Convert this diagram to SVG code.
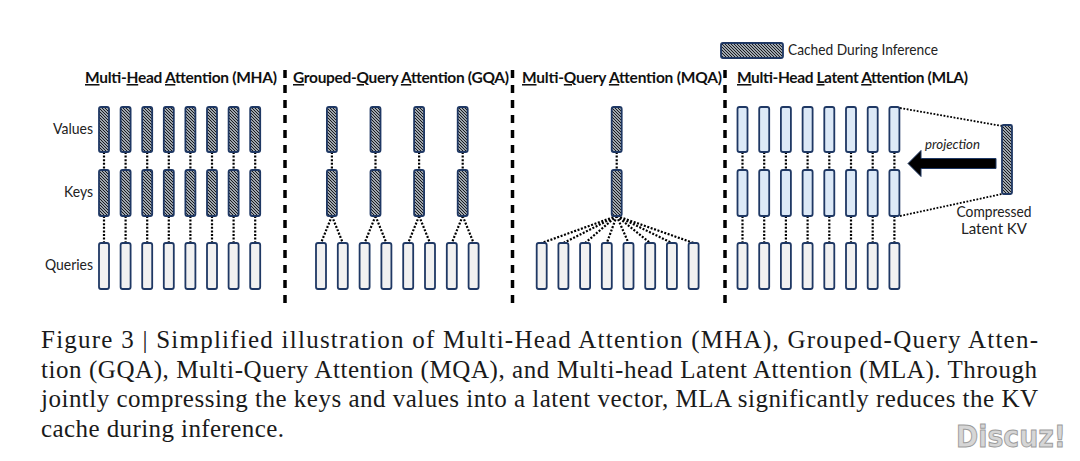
<svg xmlns="http://www.w3.org/2000/svg" width="1080" height="461" viewBox="0 0 1080 461">
<defs>
<pattern id="hatch" patternUnits="userSpaceOnUse" width="3" height="3">
<rect width="3" height="3" fill="#d6e2ef"/>
<path d="M-1,-1 L4,4 M-1,2 L1,4 M2,-1 L4,1" stroke="#111" stroke-width="1.1"/>
</pattern>
<style>
.bar{stroke:#1f3864;stroke-width:1.8}
.kv{fill:url(#hatch)}
.q{fill:#f1f1f1}
.lat{fill:#dce9f7}
.dot{stroke:#000;stroke-width:2.2;stroke-dasharray:2 1.6;fill:none}
.dot2{stroke:#000;stroke-width:1.8;stroke-dasharray:1.8 1.6;fill:none}
.div{stroke:#000;stroke-width:3.5;stroke-dasharray:8 7}
.title{font-family:Lato,"Liberation Sans",sans-serif;font-weight:bold;font-size:15.5px;fill:#111}
.u{text-decoration:underline}
.lbl{font-family:Lato,"Liberation Sans",sans-serif;font-size:15px;fill:#222}
.cap{font-family:"Liberation Serif",serif;font-size:25px;fill:#1a1a1a}
</style>
</defs>
<rect width="1080" height="461" fill="#fff"/>

<g id="dividers">
<line class="div" x1="285" y1="70" x2="285" y2="306"/>
<line class="div" x1="512.5" y1="70" x2="512.5" y2="306"/>
<line class="div" x1="725" y1="70" x2="725" y2="306"/>
</g>

<g id="legend">
<rect class="bar kv" x="721" y="43" width="62" height="15" rx="2"/>
<text class="lbl" x="788" y="54.5" font-size="13.5" textLength="150" lengthAdjust="spacingAndGlyphs">Cached During Inference</text>
</g>

<g id="titles">
<text class="title" x="85" y="83" textLength="192" lengthAdjust="spacing"><tspan class="u">M</tspan>ulti-<tspan class="u">H</tspan>ead <tspan class="u">A</tspan>ttention (MHA)</text>
<text class="title" x="293" y="83" textLength="216" lengthAdjust="spacing"><tspan class="u">G</tspan>rouped-<tspan class="u">Q</tspan>uery <tspan class="u">A</tspan>ttention (GQA)</text>
<text class="title" x="522" y="83" textLength="200" lengthAdjust="spacing"><tspan class="u">M</tspan>ulti-<tspan class="u">Q</tspan>uery <tspan class="u">A</tspan>ttention (MQA)</text>
<text class="title" x="737" y="83" textLength="231" lengthAdjust="spacing"><tspan class="u">M</tspan>ulti-Head <tspan class="u">L</tspan>atent <tspan class="u">A</tspan>ttention (MLA)</text>
</g>

<g id="row-labels">
<text class="lbl" x="93" y="134" text-anchor="end" textLength="40" lengthAdjust="spacingAndGlyphs">Values</text>
<text class="lbl" x="93" y="196.5" text-anchor="end" textLength="29" lengthAdjust="spacingAndGlyphs">Keys</text>
<text class="lbl" x="93" y="270" text-anchor="end" textLength="48" lengthAdjust="spacingAndGlyphs">Queries</text>
</g>

<g id="connectors">
<!-- MHA -->
<path class="dot" d="M104,152V170M125.6,152V170M147.2,152V170M168.8,152V170M190.4,152V170M212,152V170M233.6,152V170M255.2,152V170"/>
<path class="dot" d="M104,216V243M125.6,216V243M147.2,216V243M168.8,216V243M190.4,216V243M212,216V243M233.6,216V243M255.2,216V243"/>
<!-- GQA -->
<path class="dot" d="M331.9,152V170M375.5,152V170M419.1,152V170M462.7,152V170"/>
<path class="dot" d="M331.9,216L321,243M331.9,216L342.8,243M375.5,216L364.6,243M375.5,216L386.4,243M419.1,216L408.2,243M419.1,216L430,243M462.7,216L451.8,243M462.7,216L473.6,243"/>
<!-- MQA -->
<path class="dot" d="M616.7,152V170"/>
<path class="dot" d="M616.7,216L541.7,243M616.7,216L563.4,243M616.7,216L585.1,243M616.7,216L606.8,243M616.7,216L628.5,243M616.7,216L650.2,243M616.7,216L671.9,243M616.7,216L693.6,243"/>
<!-- MLA -->
<path class="dot" d="M742.5,152V170M764.2,152V170M785.9,152V170M807.6,152V170M829.3,152V170M851,152V170M872.7,152V170M894.4,152V170"/>
<path class="dot" d="M742.5,216V243M764.2,216V243M785.9,216V243M807.6,216V243M829.3,216V243M851,216V243M872.7,216V243M894.4,216V243"/>
<path class="dot2" d="M900,108L1002,126M900,216L1002,194"/>
<polygon id="projection-arrow" points="908,163.5 921,150.5 921,158.5 996,158.5 996,168.5 921,168.5 921,176.5" fill="#000" stroke="#1f3864" stroke-width="1"/>
<text x="925" y="149" font-family="Lato,'Liberation Sans',sans-serif" font-style="italic" font-size="13" fill="#222" textLength="55" lengthAdjust="spacingAndGlyphs">projection</text>
</g>

<!-- MHA nodes -->
<g id="mha-v1"><rect class="bar kv" x="99" y="107" width="10" height="45" rx="2"/></g>
<g id="mha-v2"><rect class="bar kv" x="120.6" y="107" width="10" height="45" rx="2"/></g>
<g id="mha-v3"><rect class="bar kv" x="142.2" y="107" width="10" height="45" rx="2"/></g>
<g id="mha-v4"><rect class="bar kv" x="163.8" y="107" width="10" height="45" rx="2"/></g>
<g id="mha-v5"><rect class="bar kv" x="185.4" y="107" width="10" height="45" rx="2"/></g>
<g id="mha-v6"><rect class="bar kv" x="207" y="107" width="10" height="45" rx="2"/></g>
<g id="mha-v7"><rect class="bar kv" x="228.6" y="107" width="10" height="45" rx="2"/></g>
<g id="mha-v8"><rect class="bar kv" x="250.2" y="107" width="10" height="45" rx="2"/></g>
<g id="mha-k1"><rect class="bar kv" x="99" y="170" width="10" height="46" rx="2"/></g>
<g id="mha-k2"><rect class="bar kv" x="120.6" y="170" width="10" height="46" rx="2"/></g>
<g id="mha-k3"><rect class="bar kv" x="142.2" y="170" width="10" height="46" rx="2"/></g>
<g id="mha-k4"><rect class="bar kv" x="163.8" y="170" width="10" height="46" rx="2"/></g>
<g id="mha-k5"><rect class="bar kv" x="185.4" y="170" width="10" height="46" rx="2"/></g>
<g id="mha-k6"><rect class="bar kv" x="207" y="170" width="10" height="46" rx="2"/></g>
<g id="mha-k7"><rect class="bar kv" x="228.6" y="170" width="10" height="46" rx="2"/></g>
<g id="mha-k8"><rect class="bar kv" x="250.2" y="170" width="10" height="46" rx="2"/></g>
<g id="mha-q1"><rect class="bar q" x="99" y="243" width="10" height="46" rx="2"/></g>
<g id="mha-q2"><rect class="bar q" x="120.6" y="243" width="10" height="46" rx="2"/></g>
<g id="mha-q3"><rect class="bar q" x="142.2" y="243" width="10" height="46" rx="2"/></g>
<g id="mha-q4"><rect class="bar q" x="163.8" y="243" width="10" height="46" rx="2"/></g>
<g id="mha-q5"><rect class="bar q" x="185.4" y="243" width="10" height="46" rx="2"/></g>
<g id="mha-q6"><rect class="bar q" x="207" y="243" width="10" height="46" rx="2"/></g>
<g id="mha-q7"><rect class="bar q" x="228.6" y="243" width="10" height="46" rx="2"/></g>
<g id="mha-q8"><rect class="bar q" x="250.2" y="243" width="10" height="46" rx="2"/></g>

<!-- GQA nodes -->
<g id="gqa-v1"><rect class="bar kv" x="326.9" y="107" width="10" height="45" rx="2"/></g>
<g id="gqa-v2"><rect class="bar kv" x="370.5" y="107" width="10" height="45" rx="2"/></g>
<g id="gqa-v3"><rect class="bar kv" x="414.1" y="107" width="10" height="45" rx="2"/></g>
<g id="gqa-v4"><rect class="bar kv" x="457.7" y="107" width="10" height="45" rx="2"/></g>
<g id="gqa-k1"><rect class="bar kv" x="326.9" y="170" width="10" height="46" rx="2"/></g>
<g id="gqa-k2"><rect class="bar kv" x="370.5" y="170" width="10" height="46" rx="2"/></g>
<g id="gqa-k3"><rect class="bar kv" x="414.1" y="170" width="10" height="46" rx="2"/></g>
<g id="gqa-k4"><rect class="bar kv" x="457.7" y="170" width="10" height="46" rx="2"/></g>
<g id="gqa-q1"><rect class="bar q" x="316" y="243" width="10" height="46" rx="2"/></g>
<g id="gqa-q2"><rect class="bar q" x="337.8" y="243" width="10" height="46" rx="2"/></g>
<g id="gqa-q3"><rect class="bar q" x="359.6" y="243" width="10" height="46" rx="2"/></g>
<g id="gqa-q4"><rect class="bar q" x="381.4" y="243" width="10" height="46" rx="2"/></g>
<g id="gqa-q5"><rect class="bar q" x="403.2" y="243" width="10" height="46" rx="2"/></g>
<g id="gqa-q6"><rect class="bar q" x="425" y="243" width="10" height="46" rx="2"/></g>
<g id="gqa-q7"><rect class="bar q" x="446.8" y="243" width="10" height="46" rx="2"/></g>
<g id="gqa-q8"><rect class="bar q" x="468.6" y="243" width="10" height="46" rx="2"/></g>

<!-- MQA nodes -->
<g id="mqa-v"><rect class="bar kv" x="611.7" y="107" width="10" height="45" rx="2"/></g>
<g id="mqa-k"><rect class="bar kv" x="611.7" y="170" width="10" height="46" rx="2"/></g>
<g id="mqa-q1"><rect class="bar q" x="536.7" y="243" width="10" height="46" rx="2"/></g>
<g id="mqa-q2"><rect class="bar q" x="558.4" y="243" width="10" height="46" rx="2"/></g>
<g id="mqa-q3"><rect class="bar q" x="580.1" y="243" width="10" height="46" rx="2"/></g>
<g id="mqa-q4"><rect class="bar q" x="601.8" y="243" width="10" height="46" rx="2"/></g>
<g id="mqa-q5"><rect class="bar q" x="623.5" y="243" width="10" height="46" rx="2"/></g>
<g id="mqa-q6"><rect class="bar q" x="645.2" y="243" width="10" height="46" rx="2"/></g>
<g id="mqa-q7"><rect class="bar q" x="666.9" y="243" width="10" height="46" rx="2"/></g>
<g id="mqa-q8"><rect class="bar q" x="688.6" y="243" width="10" height="46" rx="2"/></g>

<!-- MLA nodes -->
<g id="mla-v1"><rect class="bar lat" x="737.5" y="107" width="10" height="45" rx="2"/></g>
<g id="mla-v2"><rect class="bar lat" x="759.2" y="107" width="10" height="45" rx="2"/></g>
<g id="mla-v3"><rect class="bar lat" x="780.9" y="107" width="10" height="45" rx="2"/></g>
<g id="mla-v4"><rect class="bar lat" x="802.6" y="107" width="10" height="45" rx="2"/></g>
<g id="mla-v5"><rect class="bar lat" x="824.3" y="107" width="10" height="45" rx="2"/></g>
<g id="mla-v6"><rect class="bar lat" x="846" y="107" width="10" height="45" rx="2"/></g>
<g id="mla-v7"><rect class="bar lat" x="867.7" y="107" width="10" height="45" rx="2"/></g>
<g id="mla-v8"><rect class="bar lat" x="889.4" y="107" width="10" height="45" rx="2"/></g>
<g id="mla-k1"><rect class="bar lat" x="737.5" y="170" width="10" height="46" rx="2"/></g>
<g id="mla-k2"><rect class="bar lat" x="759.2" y="170" width="10" height="46" rx="2"/></g>
<g id="mla-k3"><rect class="bar lat" x="780.9" y="170" width="10" height="46" rx="2"/></g>
<g id="mla-k4"><rect class="bar lat" x="802.6" y="170" width="10" height="46" rx="2"/></g>
<g id="mla-k5"><rect class="bar lat" x="824.3" y="170" width="10" height="46" rx="2"/></g>
<g id="mla-k6"><rect class="bar lat" x="846" y="170" width="10" height="46" rx="2"/></g>
<g id="mla-k7"><rect class="bar lat" x="867.7" y="170" width="10" height="46" rx="2"/></g>
<g id="mla-k8"><rect class="bar lat" x="889.4" y="170" width="10" height="46" rx="2"/></g>
<g id="mla-q1"><rect class="bar q" x="737.5" y="243" width="10" height="46" rx="2"/></g>
<g id="mla-q2"><rect class="bar q" x="759.2" y="243" width="10" height="46" rx="2"/></g>
<g id="mla-q3"><rect class="bar q" x="780.9" y="243" width="10" height="46" rx="2"/></g>
<g id="mla-q4"><rect class="bar q" x="802.6" y="243" width="10" height="46" rx="2"/></g>
<g id="mla-q5"><rect class="bar q" x="824.3" y="243" width="10" height="46" rx="2"/></g>
<g id="mla-q6"><rect class="bar q" x="846" y="243" width="10" height="46" rx="2"/></g>
<g id="mla-q7"><rect class="bar q" x="867.7" y="243" width="10" height="46" rx="2"/></g>
<g id="mla-q8"><rect class="bar q" x="889.4" y="243" width="10" height="46" rx="2"/></g>

<g id="mla-latent">
<rect class="bar kv" x="1002" y="125" width="10" height="69" rx="1.5"/>
<text class="lbl" x="994" y="216.5" font-size="14" text-anchor="middle" textLength="75" lengthAdjust="spacingAndGlyphs">Compressed</text>
<text class="lbl" x="994" y="233.5" font-size="14" text-anchor="middle">Latent KV</text>
</g>

<g id="caption">
<text class="cap" x="41" y="348" textLength="997" lengthAdjust="spacing">Figure 3 | Simplified illustration of Multi-Head Attention (MHA), Grouped-Query Atten-</text>
<text class="cap" x="41" y="378" textLength="996" lengthAdjust="spacing">tion (GQA), Multi-Query Attention (MQA), and Multi-head Latent Attention (MLA). Through</text>
<text class="cap" x="41" y="407" textLength="997" lengthAdjust="spacing">jointly compressing the keys and values into a latent vector, MLA significantly reduces the KV</text>
<text class="cap" x="41" y="437" textLength="243" lengthAdjust="spacing">cache during inference.</text>
</g>

<g id="watermark">
<text x="956" y="447" font-family="'DejaVu Sans',sans-serif" font-weight="bold" font-size="30" fill="#d6d6d6" stroke="#9c9c9c" stroke-width="1" textLength="110" lengthAdjust="spacingAndGlyphs">Discuz!</text>
</g>
</svg>
